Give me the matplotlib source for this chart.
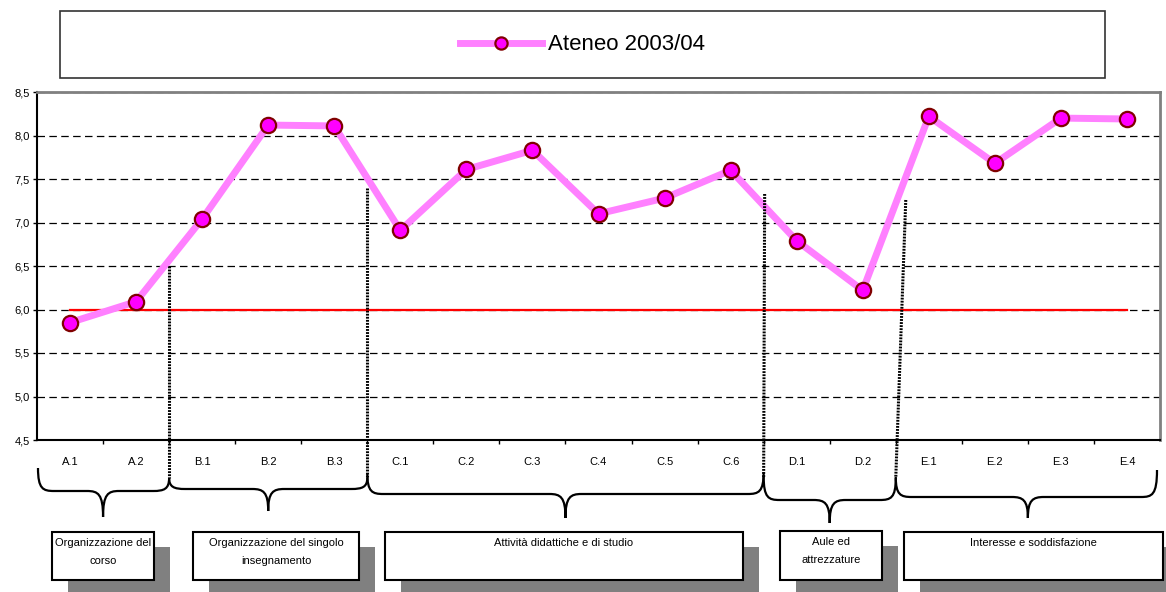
import matplotlib
matplotlib.use('Agg')
import matplotlib.pyplot as plt
from matplotlib.path import Path
from matplotlib.patches import PathPatch, Rectangle

plt.rcParams['font.family'] = ['Liberation Sans', 'DejaVu Sans']

# dati
categories = ['A.1', 'A.2', 'B.1', 'B.2', 'B.3', 'C.1', 'C.2', 'C.3', 'C.4', 'C.5', 'C.6',
              'D.1', 'D.2', 'E.1', 'E.2', 'E.3', 'E.4']
scores = [5.85, 6.09, 7.04, 8.12, 8.11, 6.91, 7.61, 7.83, 7.10, 7.28, 7.60,
          6.79, 6.22, 8.22, 7.68, 8.20, 8.19]
series_label = 'Ateneo 2003/04'
threshold = 6.0
group_sizes = [2, 3, 6, 2, 4]
group_names = ['Organizzazione del\ncorso',
               'Organizzazione del singolo\ninsegnamento',
               'Attività didattiche e di studio',
               'Aule ed\nattrezzature',
               'Interesse e soddisfazione']
y_ticks = [4.5, 5.0, 5.5, 6.0, 6.5, 7.0, 7.5, 8.0, 8.5]
y_tick_labels = ['4,5', '5,0', '5,5', '6,0', '6,5', '7,0', '7,5', '8,0', '8,5']

# layout (pixel)
W, H = 1166, 592
sep_tops = [266, 188, 194, 200]
sep_top_shift = [0, 0, 1, 10]
sep_bottom = 478
brace_style = [  # (y top sx, y top dx, y orizzontale, y punta)
    (468, 478, 491, 517),
    (478, 478, 489, 511),
    (473, 472, 494, 518),
    (476, 478, 500, 523),
    (477, 470, 497, 518),
]
boxes = [(52, 532, 154, 580), (193, 532, 359, 580), (385, 532, 743, 580),
         (780, 531, 882, 580), (904, 532, 1163, 580)]
shadow_off = (16, 15)

fig = plt.figure(figsize=(W / 100, H / 100), dpi=100)
ax = fig.add_axes([37 / W, (H - 440) / H, (1160 - 37) / W, (440 - 92) / H])

x = list(range(len(categories)))
ax.plot([x[0], x[-1]], [threshold, threshold], color='#FF0000', lw=1.6, zorder=2)
line, = ax.plot(x, scores, color='#FF80FF', lw=5, marker='o', markersize=11,
                markerfacecolor='#FF00FF', markeredgecolor='#800000',
                markeredgewidth=1.6, label=series_label, zorder=3)

ax.set_xlim(-0.5, len(categories) - 0.5)
ax.set_ylim(4.5, 8.5)
ax.set_yticks(y_ticks)
ax.set_yticklabels(y_tick_labels)
ax.yaxis.grid(True, color='black', lw=0.9, dashes=(6, 3.5))
ax.set_axisbelow(True)

ax.set_xticks([i + 0.5 for i in x[:-1]])
ax.set_xticklabels([])
ax.set_xticks(x, minor=True)
ax.set_xticklabels(categories, minor=True)
ax.tick_params(axis='x', which='major', length=3, width=1, direction='out')
ax.tick_params(axis='x', which='minor', length=0, pad=12, labelsize=8)
ax.tick_params(axis='y', length=3, width=1, pad=2, labelsize=8)

for s in ['left', 'bottom']:
    ax.spines[s].set_color('black')
    ax.spines[s].set_linewidth(1.5)
for s in ['top', 'right']:
    ax.spines[s].set_color('#808080')
    ax.spines[s].set_linewidth(2)

# overlay in pixel per separatori, graffe e riquadri
ov = fig.add_axes([0, 0, 1, 1], zorder=5)
ov.patch.set_alpha(0)
ov.axis('off')
ov.set_xlim(0, W)
ov.set_ylim(H, 0)


def cat_px(v):
    return ax.transData.transform((v, 4.5))[0]


bounds = [-0.5]
for g in group_sizes:
    bounds.append(bounds[-1] + g)
bx = [cat_px(b) for b in bounds]
bx[0] += 1
bx[-1] -= 3

# separatori tratteggiati
for k, xb in enumerate(bx[1:-1]):
    ov.plot([xb + sep_top_shift[k], xb], [sep_tops[k], sep_bottom], color='black',
            lw=2.2, linestyle=(0, (0.6, 0.4)))


def brace(x0, x1, yl, yr, ym, yt, xc):
    verts = [(x0, yl),
             (x0, ym - 2), (x0 + 5, ym), (x0 + 16, ym),
             (xc - 16, ym),
             (xc - 5, ym), (xc, ym + 3), (xc, yt),
             (xc, ym + 3), (xc + 5, ym), (xc + 16, ym),
             (x1 - 16, ym),
             (x1 - 5, ym), (x1, ym - 2), (x1, yr)]
    codes = [Path.MOVETO] + [Path.CURVE4] * 3 + [Path.LINETO] + [Path.CURVE4] * 6 + \
            [Path.LINETO] + [Path.CURVE4] * 3
    ov.add_patch(PathPatch(Path(verts, codes), fill=False, lw=1.6, edgecolor='black'))


for k in range(len(group_sizes)):
    yl, yr, ym, yt = brace_style[k]
    xc = (cat_px(bounds[k]) + cat_px(bounds[k + 1])) / 2
    brace(bx[k], bx[k + 1], yl, yr, ym, yt, xc)

# riquadri con ombra
for (x0, y0, x1, y1), name in zip(boxes, group_names):
    ov.add_patch(Rectangle((x0 + shadow_off[0], y0 + shadow_off[1]), x1 - x0, y1 - y0,
                           facecolor='#808080', edgecolor='none'))
    ov.add_patch(Rectangle((x0, y0), x1 - x0, y1 - y0, facecolor='white',
                           edgecolor='black', lw=1.5))
    ov.text((x0 + x1) / 2, y0 + 6, name, ha='center', va='top', fontsize=8,
            linespacing=1.95)

# legenda
ov.add_patch(Rectangle((60, 11), 1045, 67, facecolor='white', edgecolor='#333333', lw=1.2))
fig.legend(handles=[line], loc='center', bbox_to_anchor=(582.5, 45),
           bbox_transform=ov.transData, frameon=False, fontsize=16,
           handlelength=3.7, handletextpad=0.3, markerscale=0.8)

fig.savefig('out.png', dpi=100)
